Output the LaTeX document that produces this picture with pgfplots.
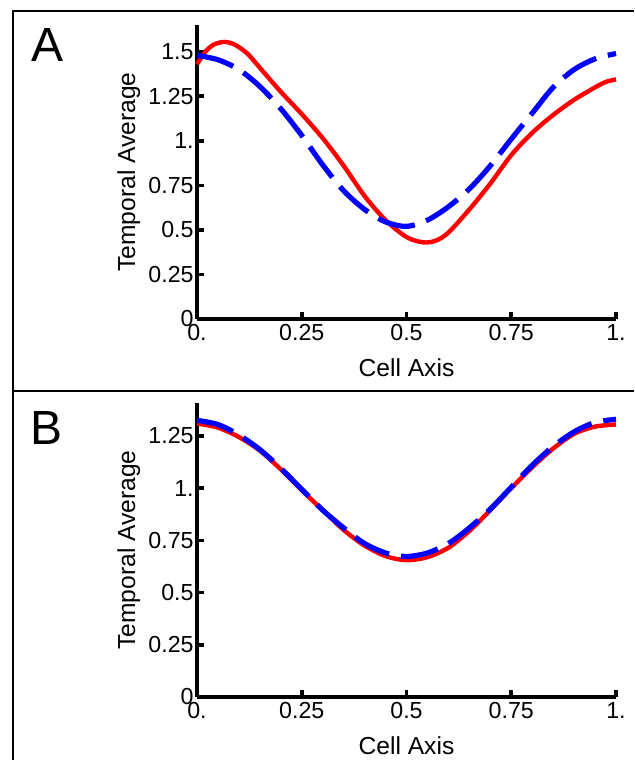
\documentclass[border=0pt]{standalone}
\usepackage{fontspec}
\setmainfont{Liberation Sans}
\usepackage{pgfplots}
\pgfplotsset{compat=1.18}

\pgfplotsset{
  panel/.style={
    scale only axis, width=209.5pt, height=147pt,
    xmin=0, xmax=1, ymin=0,
    axis x line=bottom, axis y line=left,
    axis line style={-, line width=2.2pt},
    tick align=inside, major tick length=3.5pt,
    every tick/.style={black, line width=1.8pt},
    xtick={0,0.25,0.5,0.75,1},
    xticklabels={0.,0.25,0.5,0.75,1.},
    ticklabel style={font=\fontsize{11.6}{13}\selectfont},
    xticklabel style={inner sep=2.5pt},
    yticklabel style={inner sep=1.5pt},
    label style={font=\fontsize{12.3}{14}\selectfont},
    xlabel={Cell Axis}, ylabel={Temporal Average},
    xlabel style={at={(axis description cs:0.5,-0.167)}, anchor=center},
    ylabel style={at={(axis description cs:-0.163,0.5)}, anchor=center},
    clip=false,
  },
  redline/.style={red, line width=2.2pt, smooth},
  blueline/.style={blue, line width=2.6pt, smooth, dash pattern=on 19pt off 6pt},
}

\begin{document}
\begin{tikzpicture}
\useasboundingbox (0,0) rectangle (317pt,-380pt);
% frame
\draw[line width=1.2pt] (317pt,-5.5pt) -- (6.5pt,-5.5pt) -- (6.5pt,-380pt);
\draw[line width=1.2pt] (6.5pt,-195.5pt) -- (317pt,-195.5pt);
\node[font=\fontsize{24}{26}\selectfont] at (24pt,-22.5pt) {A};
\node[font=\fontsize{24}{26}\selectfont] at (23.5pt,-214pt) {B};

\begin{axis}[panel, at={(98.5pt,-159.5pt)}, anchor=origin,
    ymax=1.65,
    ytick={0,0.25,0.5,0.75,1,1.25,1.5},
    yticklabels={0,0.25,0.5,0.75,1.,1.25,1.5}]
\addplot[redline] coordinates {
 (0,1.43) (0.02,1.50) (0.04,1.54) (0.065,1.555) (0.09,1.54) (0.12,1.49)
 (0.15,1.41) (0.20,1.275) (0.25,1.15) (0.30,1.015) (0.35,0.86)
 (0.40,0.69) (0.45,0.555) (0.50,0.46) (0.54,0.43) (0.57,0.44) (0.60,0.485)
 (0.65,0.615) (0.70,0.76) (0.75,0.92) (0.80,1.045) (0.85,1.145) (0.90,1.23)
 (0.95,1.30) (0.975,1.33) (1.00,1.345)};
\addplot[blueline] coordinates {
 (0,1.48) (0.05,1.455) (0.10,1.40) (0.15,1.305) (0.20,1.18) (0.25,1.03)
 (0.30,0.865) (0.35,0.72) (0.40,0.615) (0.45,0.545) (0.50,0.52) (0.55,0.555)
 (0.60,0.63) (0.65,0.73) (0.70,0.86) (0.75,1.01) (0.80,1.155) (0.85,1.30)
 (0.90,1.40) (0.95,1.46) (1.00,1.49)};
\end{axis}

\begin{axis}[panel, at={(98.5pt,-348.5pt)}, anchor=origin,
    ymax=1.408,
    ytick={0,0.25,0.5,0.75,1,1.25},
    yticklabels={0,0.25,0.5,0.75,1.,1.25}]
\addplot[redline] coordinates {
 (0,1.31) (0.05,1.29) (0.10,1.245) (0.15,1.18) (0.20,1.09) (0.25,0.99)
 (0.30,0.895) (0.35,0.80) (0.40,0.725) (0.45,0.675) (0.50,0.655) (0.55,0.67)
 (0.60,0.715) (0.65,0.795) (0.70,0.895) (0.75,1.00) (0.80,1.10) (0.85,1.19)
 (0.90,1.26) (0.95,1.295) (1.00,1.305)};
\addplot[blueline] coordinates {
 (0,1.325) (0.05,1.305) (0.10,1.255) (0.15,1.185) (0.20,1.095) (0.25,0.995)
 (0.30,0.895) (0.35,0.81) (0.40,0.735) (0.45,0.69) (0.50,0.673) (0.55,0.69)
 (0.60,0.735) (0.65,0.81) (0.70,0.90) (0.75,1.005) (0.80,1.11) (0.85,1.20)
 (0.90,1.27) (0.95,1.315) (1.00,1.33)};
\end{axis}
\end{tikzpicture}
\end{document}
